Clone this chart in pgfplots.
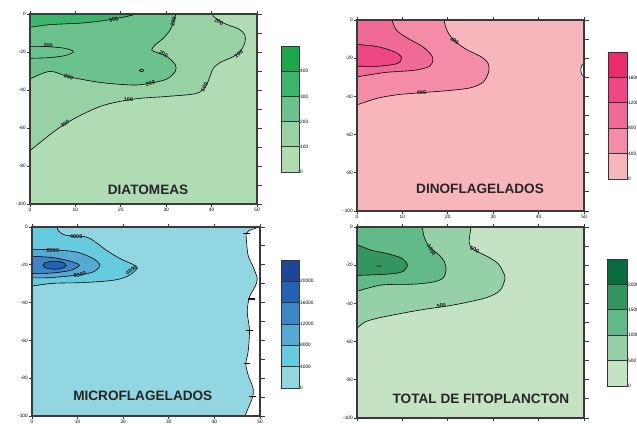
\documentclass[border=0pt]{standalone}
\usepackage{fontspec}
\setmainfont{Liberation Sans}
\usepackage{pgfplots}
\pgfplotsset{compat=1.18}
\definecolor{axc}{HTML}{3A3A3A}
\definecolor{titc}{HTML}{262626}
\definecolor{dA}{HTML}{B0DCB4}\definecolor{dB}{HTML}{97D1A4}\definecolor{dC}{HTML}{6CC28D}\definecolor{dD}{HTML}{3BB56A}\definecolor{dE}{HTML}{1EA64B}
\definecolor{nA}{HTML}{F7B6BB}\definecolor{nB}{HTML}{F48BA7}\definecolor{nC}{HTML}{F06A97}\definecolor{nD}{HTML}{EF4784}\definecolor{nE}{HTML}{EC2A6E}
\definecolor{mA}{HTML}{92D6E2}\definecolor{mB}{HTML}{67CBE0}\definecolor{mC}{HTML}{55A9D3}\definecolor{mD}{HTML}{3C86C6}\definecolor{mE}{HTML}{2262B0}\definecolor{mF}{HTML}{1B4796}
\definecolor{tA}{HTML}{C4E3C3}\definecolor{tB}{HTML}{95D0A6}\definecolor{tC}{HTML}{63BA89}\definecolor{tD}{HTML}{35955F}\definecolor{tE}{HTML}{0A6C3C}
\tikzset{
  lab/.style={font=\fontsize{5.5}{5.5}\selectfont\bfseries, inner sep=0pt, text=black!90},
  ttl/.style={font=\fontsize{13.6}{14}\selectfont\bfseries, color=titc},
}
\pgfplotsset{
  panel/.style={scale only axis, anchor=south west, xmin=0, xmax=50, ymin=-100, ymax=0,
    axis on top, xtick={0,10,...,50}, ytick={0,-20,...,-100},
    tick align=outside, xtick pos=both, xticklabel pos=lower, ytick pos=left,
    major tick length=3pt, tick style={line width=0.8pt, color=axc},
    axis line style={line width=1.2pt, color=axc},
    ticklabel style={font=\fontsize{4.8}{5}\selectfont, inner sep=1pt},
    /pgf/number format/assume math mode=true},
  rtick/.style={scale only axis, anchor=south west, xmin=0, xmax=50, ymin=-100, ymax=0,
    hide x axis, axis y line*=right, ytick={0,-10,...,-100}, yticklabels={},
    tick align=outside, major tick length=5pt, tick style={line width=0.8pt, color=axc},
    axis line style={line width=1.2pt, color=axc}},
  cbar/.style={scale only axis, anchor=south west, xmin=0, xmax=1, ymin=0,
    xtick=\empty, axis line style={line width=0.9pt, color=axc},
    ytick pos=right, yticklabel pos=right, major tick length=0pt,
    ticklabel style={font=\fontsize{4.8}{5}\selectfont, inner sep=1pt}},
  cl/.style={smooth, draw=black, line width=0.6pt},
}
\begin{document}
\begin{tikzpicture}[x=1pt,y=1pt]
\useasboundingbox (0,0) rectangle (637,423);
% ================= DIATOMEAS =================
\begin{axis}[panel, at={(30pt,219pt)}, width=227pt, height=190pt]
\addplot[fill=dA, draw=none] coordinates {(0,0)(50,0)(50,-100)(0,-100)} --cycle;
\addplot[cl, fill=dB] coordinates {(-5,-81.2)(0,-71.9)(7.4,-58.3)(15.4,-48.7)(22.8,-44.8)(30.1,-43.4)(36.5,-41.9)(38.6,-38.5)(39.7,-32.5)(40.4,-28.5)(41.9,-25.5)(44.9,-22.3)(46.3,-19.7)(47.3,-15.3)(47.3,-10.9)(46,-7.9)(43.4,-5.6)(41.5,-3.3)(40.4,-1.2)(40.1,0)(39.9,5)(39,20)(-20,20)(-20,-81.2)} --cycle;
\addplot[cl, fill=dC] coordinates {(-3,-37)(0,-34.1)(4.4,-30.2)(8.5,-33)(15.4,-36)(22.8,-37.4)(26.5,-36.4)(30.1,-34.3)(32,-30.2)(32,-26.7)(30.1,-22.3)(27.6,-20)(26.8,-18.8)(27.6,-16.2)(29.4,-12.7)(30.9,-8.3)(31.6,-3.9)(32,-1.2)(32.2,0)(32.4,5)(32,20)(-20,20)(-20,-37)} --cycle;
\addplot[cl, fill=dD] coordinates {(-3,-7.5)(0,-7)(4.4,-5.6)(11.8,-4.7)(17.6,-3)(22,-0.9)(22.8,0)(23.5,5)(23,20)(-20,20)(-20,-7.5)} --cycle;
\addplot[cl] coordinates {(-2,-17)(0,-17)(4,-17.2)(7.5,-18)(9.6,-19.8)(7.5,-22)(4,-23)(0,-23.3)(-2,-23.3)};
\addplot[cl] coordinates {(25.1,-29.7)(24.6,-29)(24.1,-29.7)(24.6,-30.4)(25.1,-29.7)};
\node[lab] at (axis cs:4,-16.6) {300};
\node[lab, rotate=15] at (axis cs:18.4,-3) {300};
\node[lab, rotate=75] at (axis cs:31.6,-3.9) {200};
\node[lab, rotate=-30] at (axis cs:29.4,-20.9) {200};
\node[lab, rotate=-15] at (axis cs:8.5,-33.2) {200};
\node[lab, rotate=15] at (axis cs:26.5,-36.4) {200};
\node[lab] at (axis cs:21.7,-45.2) {100};
\node[lab, rotate=35] at (axis cs:7.7,-57.8) {100};
\node[lab, rotate=60] at (axis cs:38.4,-38.6) {100};
\node[lab, rotate=35] at (axis cs:46,-21) {100};
\node[lab, rotate=-28] at (axis cs:41.6,-4.2) {100};
\node[ttl] at (axis cs:26,-92.3) {DIATOMEAS};
\end{axis}
\begin{axis}[rtick, at={(30pt,219pt)}, width=227pt, height=190pt]
\end{axis}
\begin{axis}[cbar, at={(281pt,251pt)}, width=18pt, height=126pt, ymax=5, ytick={0,1,2,3,4}, yticklabels={0,100,200,300,400}]
\addplot[fill=dA, draw=black!80, line width=0.7pt] coordinates {(0,0)(1,0)(1,1)(0,1)} --cycle;
\addplot[fill=dB, draw=black!80, line width=0.7pt] coordinates {(0,1)(1,1)(1,2)(0,2)} --cycle;
\addplot[fill=dC, draw=black!80, line width=0.7pt] coordinates {(0,2)(1,2)(1,3)(0,3)} --cycle;
\addplot[fill=dD, draw=black!80, line width=0.7pt] coordinates {(0,3)(1,3)(1,4)(0,4)} --cycle;
\addplot[fill=dE, draw=black!80, line width=0.7pt] coordinates {(0,4)(1,4)(1,5)(0,5)} --cycle;
\end{axis}
% ================= DINOFLAGELADOS =================
\begin{axis}[panel, at={(357pt,212pt)}, width=227pt, height=191pt]
\addplot[fill=nA, draw=none] coordinates {(0,0)(50,0)(50,-100)(0,-100)} --cycle;
\addplot[cl, fill=nB] coordinates {(-4,-47.3)(0,-44.4)(4.6,-40.9)(9,-39.1)(13.4,-38.2)(20.8,-36.8)(25.2,-35.4)(27.8,-32.5)(29,-27.2)(28.9,-22.8)(27.4,-19.3)(24.4,-15.8)(22.2,-12.3)(20.4,-7.9)(19.5,-3.5)(19.2,0)(19.1,5)(19,20)(-20,20)(-20,-47.3)} --cycle;
\addplot[cl, fill=nC] coordinates {(-4,-31.5)(0,-29.8)(6.1,-27.5)(12.7,-26.3)(16,-24.2)(16.7,-21)(16.4,-18.4)(14.5,-14)(11.2,-9.6)(8.7,-5.3)(7.7,0)(7.3,5)(7,20)(-20,20)(-20,-31.5)} --cycle;
\addplot[cl, fill=nD] coordinates {(-4,-12.5)(0,-12.8)(4.6,-14)(8.3,-16.7)(9.8,-19.6)(8.9,-22.8)(4.6,-24.2)(0,-24.2)(-4,-24.2)} --cycle;
\addplot[cl, fill=white] coordinates {(52,-22.3)(50,-22.6)(49.4,-24.5)(49.3,-26.2)(49.5,-28.5)(50,-29.8)(52,-30)} --cycle;
\node[lab] at (axis cs:14.2,-38.2) {400};
\node[lab, rotate=-30] at (axis cs:21.5,-11) {400};
\node[ttl] at (axis cs:27.1,-88.5) {DINOFLAGELADOS};
\end{axis}
\begin{axis}[rtick, at={(357pt,212pt)}, width=227pt, height=191pt]
\end{axis}
\begin{axis}[cbar, at={(608pt,244pt)}, width=19pt, height=127pt, ymax=5, ytick={0,1,2,3,4}, yticklabels={0,400,800,1200,1600}]
\addplot[fill=nA, draw=black!80, line width=0.7pt] coordinates {(0,0)(1,0)(1,1)(0,1)} --cycle;
\addplot[fill=nB, draw=black!80, line width=0.7pt] coordinates {(0,1)(1,1)(1,2)(0,2)} --cycle;
\addplot[fill=nC, draw=black!80, line width=0.7pt] coordinates {(0,2)(1,2)(1,3)(0,3)} --cycle;
\addplot[fill=nD, draw=black!80, line width=0.7pt] coordinates {(0,3)(1,3)(1,4)(0,4)} --cycle;
\addplot[fill=nE, draw=black!80, line width=0.7pt] coordinates {(0,4)(1,4)(1,5)(0,5)} --cycle;
\end{axis}
% ================= MICROFLAGELADOS =================
\begin{axis}[panel, at={(32pt,7pt)}, width=228pt, height=189pt]
\addplot[fill=mA, draw=none] coordinates {(0,0)(50,0)(50,-100)(0,-100)} --cycle;
\addplot[cl, fill=mB] coordinates {(-4,-32.2)(0,-31.2)(4.6,-29.8)(11.2,-29.4)(17.8,-28.2)(21.1,-25.9)(23.1,-21.7)(22.2,-19.9)(19.3,-16.7)(16.3,-12.3)(14.1,-8.3)(11.9,-5.3)(7.5,-4.4)(5.9,-2.3)(5.5,0)(5.4,5)(5,20)(-20,20)(-20,-32.2)} --cycle;
\addplot[cl, fill=mC] coordinates {(-4,-11.7)(0,-11.8)(3.9,-12)(9.7,-13.2)(13.4,-16.7)(14.9,-20.2)(13.4,-23.8)(9.7,-25.5)(3.9,-26.8)(0,-26.9)(-4,-26.9)} --cycle;
\addplot[cl, fill=mD] coordinates {(-4,-15.4)(0,-15.5)(4.6,-16.2)(8.2,-18)(10.4,-20.2)(8.5,-22.9)(4.6,-24.3)(0,-24.6)(-4,-24.6)} --cycle;
\addplot[cl, fill=mE] coordinates {(7.5,-20.25)(7.16,-19.2)(6.23,-18.43)(4.95,-18.15)(3.67,-18.43)(2.74,-19.2)(2.4,-20.25)(2.74,-21.3)(3.67,-22.07)(4.95,-22.35)(6.23,-22.07)(7.16,-21.3)(7.5,-20.25)} --cycle;
\addplot[cl, fill=white] coordinates {(50,3)(49.6,0)(47.5,-2)(47,-3.5)(47,-6.2)(47.4,-15)(48.5,-21.1)(49.4,-27.3)(48.9,-31.7)(47.7,-37)(47.2,-44.9)(47.7,-54.6)(47.4,-66)(46.9,-72.2)(47.4,-78.3)(48.5,-85.4)(48.4,-89.8)(47.7,-94.2)(46.7,-100)(46.4,-103)(60,-103)(60,3)} --cycle;
\addplot[black, line width=1.4pt] coordinates {(46.3,-3.5)(47.8,-3.5)};
\addplot[black, line width=1.4pt] coordinates {(47.4,-38.2)(48.9,-38.2)};
\addplot[black, line width=1.4pt] coordinates {(46.9,-54.9)(48.4,-54.9)};
\addplot[black, line width=1.4pt] coordinates {(46.4,-72.2)(47.9,-72.2)};
\addplot[black, line width=1.4pt] coordinates {(47.6,-89.8)(49.1,-89.8)};
\node[lab] at (axis cs:9.7,-4.9) {4000};
\node[lab] at (axis cs:4.6,-12.5) {8000};
\node[lab, rotate=10] at (axis cs:10.5,-25.2) {8000};
\node[lab, rotate=35] at (axis cs:21.8,-22.9) {4000};
\node[ttl] at (axis cs:24.3,-89.4) {MICROFLAGELADOS};
\end{axis}
\begin{axis}[rtick, at={(32pt,7pt)}, width=228pt, height=189pt]
\end{axis}
\begin{axis}[cbar, at={(281pt,35pt)}, width=18pt, height=128pt, ymax=6, ytick={0,1,2,3,4,5}, yticklabels={0,4000,8000,12000,16000,20000}]
\addplot[fill=mA, draw=black!80, line width=0.7pt] coordinates {(0,0)(1,0)(1,1)(0,1)} --cycle;
\addplot[fill=mB, draw=black!80, line width=0.7pt] coordinates {(0,1)(1,1)(1,2)(0,2)} --cycle;
\addplot[fill=mC, draw=black!80, line width=0.7pt] coordinates {(0,2)(1,2)(1,3)(0,3)} --cycle;
\addplot[fill=mD, draw=black!80, line width=0.7pt] coordinates {(0,3)(1,3)(1,4)(0,4)} --cycle;
\addplot[fill=mE, draw=black!80, line width=0.7pt] coordinates {(0,4)(1,4)(1,5)(0,5)} --cycle;
\addplot[fill=mF, draw=black!80, line width=0.7pt] coordinates {(0,5)(1,5)(1,6)(0,6)} --cycle;
\end{axis}
% ================= TOTAL =================
\begin{axis}[panel, at={(357pt,5pt)}, width=227pt, height=191pt, xticklabels={}]
\addplot[fill=tA, draw=none] coordinates {(0,0)(50,0)(50,-100)(0,-100)} --cycle;
\addplot[cl, fill=tB] coordinates {(-2,-56.8)(0,-53)(1.7,-49.8)(4.6,-47.7)(10.5,-44.9)(15.7,-42.8)(20.1,-41.3)(24.5,-39.3)(28.9,-36.7)(31.5,-33.2)(32.6,-27.1)(32.2,-23.6)(31.1,-19.2)(28.9,-15.7)(26.7,-13.1)(25.2,-11)(24.7,-7.9)(24.9,-3.5)(25.1,0)(25.2,5)(25,20)(-20,20)(-20,-56.8)} --cycle;
\addplot[cl, fill=tC] coordinates {(-4,-36.2)(0,-33.6)(3.2,-31.5)(6.1,-30.2)(12.7,-29.9)(16.8,-28.8)(19,-26.7)(19.6,-22.7)(19.3,-18.4)(18.2,-14.9)(16.8,-12.2)(15.7,-9.6)(14.8,-5.2)(14.4,0)(14.3,5)(14,20)(-20,20)(-20,-36.2)} --cycle;
\addplot[cl, fill=tD] coordinates {(-4,-6.5)(0,-9.3)(3.2,-12.2)(6.8,-14)(9.8,-16.3)(11.1,-19.8)(10.1,-23.3)(7.6,-24.5)(3.9,-25)(0,-25.3)(-4,-25.3)} --cycle;
\node[lab, font=\fontsize{2.5}{2.5}\selectfont\bfseries] at (axis cs:4.9,-20.5) {2000};
\node[lab, rotate=-60] at (axis cs:16.4,-12.2) {1000};
\node[lab, rotate=-20] at (axis cs:25.9,-11.9) {500};
\node[lab, rotate=8] at (axis cs:18.6,-41.1) {500};
\node[ttl] at (axis cs:27.3,-90) {TOTAL DE FITOPLANCTON};
\end{axis}
\begin{axis}[rtick, at={(357pt,5pt)}, width=227pt, height=191pt]
\end{axis}
\begin{axis}[cbar, at={(607pt,37pt)}, width=20pt, height=127pt, ymax=5, ytick={0,1,2,3,4}, yticklabels={0,500,1000,1500,2000}]
\addplot[fill=tA, draw=black!80, line width=0.7pt] coordinates {(0,0)(1,0)(1,1)(0,1)} --cycle;
\addplot[fill=tB, draw=black!80, line width=0.7pt] coordinates {(0,1)(1,1)(1,2)(0,2)} --cycle;
\addplot[fill=tC, draw=black!80, line width=0.7pt] coordinates {(0,2)(1,2)(1,3)(0,3)} --cycle;
\addplot[fill=tD, draw=black!80, line width=0.7pt] coordinates {(0,3)(1,3)(1,4)(0,4)} --cycle;
\addplot[fill=tE, draw=black!80, line width=0.7pt] coordinates {(0,4)(1,4)(1,5)(0,5)} --cycle;
\end{axis}
\end{tikzpicture}
\end{document}
